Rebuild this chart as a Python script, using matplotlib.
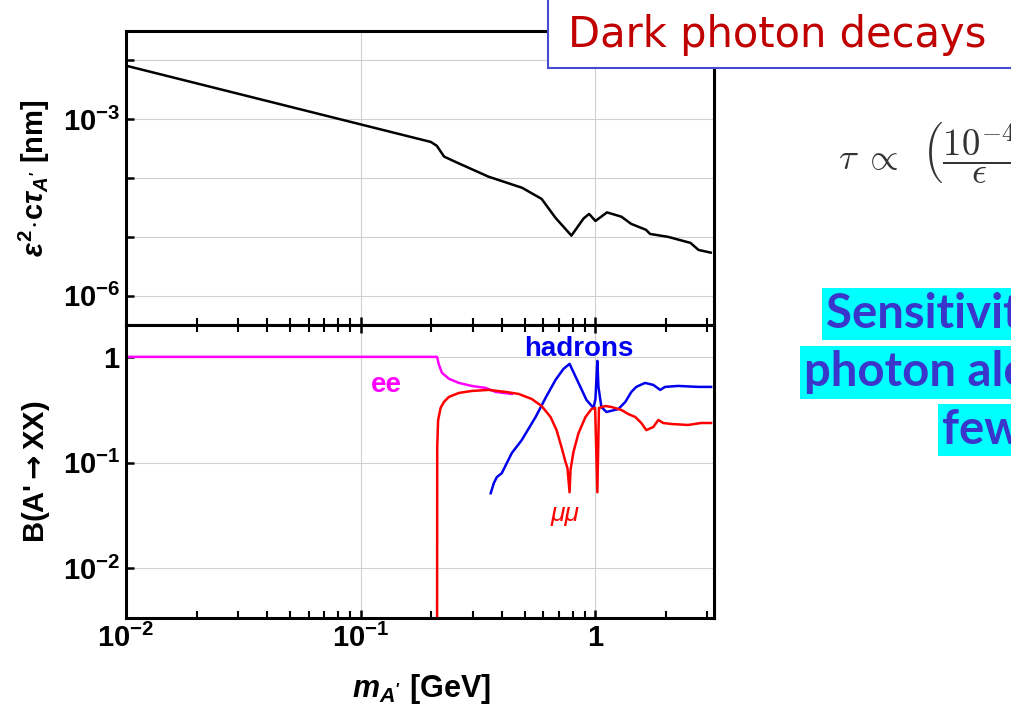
import matplotlib
matplotlib.use("Agg")
import matplotlib.pyplot as plt
from matplotlib.ticker import FixedLocator, FixedFormatter, NullLocator, LogLocator
from matplotlib.patches import Rectangle

# --- data (mass in GeV) ---
ctau_mass = [0.01, 0.199, 0.211, 0.2265, 0.254, 0.35, 0.487, 0.59, 0.676, 0.79,
             0.89, 0.94, 1.0, 1.12, 1.29, 1.42, 1.64, 1.71, 2.04, 2.54, 2.75, 3.1]
ctau_nm = [8.0e-3, 4.07e-4, 3.5e-4, 2.3e-4, 1.86e-4, 1.05e-4, 6.8e-5, 4.4e-5, 2.1e-5, 1.05e-5,
           2.05e-5, 2.45e-5, 1.86e-5, 2.6e-5, 2.2e-5, 1.66e-5, 1.32e-5, 1.12e-5, 1.0e-5, 7.9e-6,
           6.0e-6, 5.4e-6]

ee_mass = [0.01, 0.2113, 0.2155, 0.222, 0.2377, 0.262, 0.297, 0.341, 0.376, 0.44]
ee_br = [1.0, 1.0, 0.84, 0.705, 0.62, 0.567, 0.531, 0.508, 0.466, 0.446]

mumu_mass = [0.2113, 0.2118, 0.2137, 0.219, 0.2262, 0.2375, 0.262, 0.2976, 0.351, 0.415,
             0.471, 0.535, 0.59, 0.644, 0.683, 0.717, 0.746, 0.76, 0.776, 0.783,
             0.806, 0.847, 0.907, 0.962, 0.997, 1.019, 1.035, 1.103, 1.17, 1.289,
             1.38, 1.479, 1.568, 1.647, 1.764, 1.852, 1.944, 2.102, 2.482, 2.819, 3.11]
mumu_br = [1e-4, 0.14, 0.253, 0.329, 0.375, 0.418, 0.456, 0.476, 0.487, 0.466,
           0.446, 0.400, 0.343, 0.270, 0.203, 0.140, 0.101, 0.0887, 0.0525, 0.085,
           0.126, 0.190, 0.270, 0.321, 0.329, 0.0525, 0.329, 0.343, 0.336, 0.315,
           0.288, 0.270, 0.237, 0.203, 0.217, 0.253, 0.237, 0.232, 0.227, 0.237, 0.237]

had_mass = [0.358, 0.369, 0.38, 0.399, 0.44, 0.485, 0.556, 0.613, 0.676, 0.731,
            0.776, 0.847, 0.916, 0.981, 1.0, 1.019, 1.03, 1.06, 1.114, 1.252,
            1.341, 1.422, 1.493, 1.626, 1.764, 1.888, 1.98, 2.251, 2.738, 3.11]
had_br = [0.0514, 0.064, 0.0729, 0.0795, 0.123, 0.163, 0.270, 0.409, 0.605, 0.77,
          0.858, 0.567, 0.391, 0.329, 0.40, 0.916, 0.52, 0.336, 0.301, 0.321,
          0.375, 0.466, 0.52, 0.567, 0.543, 0.487, 0.52, 0.531, 0.52, 0.52]

x_ticks = [0.01, 0.1, 1]
x_labels = [r"$10^{-2}$", r"$10^{-1}$", r"$1$"]
ctau_ticks = [1e-7, 1e-6, 1e-5, 1e-4, 1e-3, 1e-2, 1e-1]
ctau_labels = ["", r"$10^{-6}$", "", "", r"$10^{-3}$", "", ""]
br_ticks = [1e-2, 1e-1, 1]
br_labels = [r"$10^{-2}$", r"$10^{-1}$", r"$1$"]

plt.rcParams["font.family"] = ["Liberation Sans", "DejaVu Sans"]
plt.rcParams["font.weight"] = "bold"
plt.rcParams["axes.labelweight"] = "bold"
plt.rcParams["mathtext.fontset"] = "custom"
plt.rcParams["mathtext.rm"] = "Liberation Sans:bold"
plt.rcParams["mathtext.bf"] = "Liberation Sans:bold"
plt.rcParams["mathtext.it"] = "Liberation Sans:italic:bold"
plt.rcParams["mathtext.sf"] = "DejaVu Sans:bold"

W, H = 1012, 706
fig = plt.figure(figsize=(W / 100, H / 100), dpi=100)

left, right = 126 / W, 714 / W
ax1 = fig.add_axes([left, 1 - 325 / H, right - left, 294 / H])
ax2 = fig.add_axes([left, 1 - 618 / H, right - left, 293 / H])

grid_kw = dict(color="#d0d0d0", lw=0.8)

for ax in (ax1, ax2):
    ax.set_xscale("log")
    ax.set_yscale("log")
    ax.set_xlim(0.01, 3.2)
    for s in ax.spines.values():
        s.set_linewidth(2.2)
    ax.xaxis.set_major_locator(FixedLocator(x_ticks))
    ax.xaxis.set_minor_locator(LogLocator(base=10, subs=range(2, 10)))
    ax.grid(True, which="major", **grid_kw)
    ax.tick_params(which="major", direction="in", length=6, width=1.8, labelsize=21, pad=4)
    ax.tick_params(which="minor", direction="in", length=5, width=1.5)
    ax.yaxis.set_minor_locator(NullLocator())

# upper panel: lifetime
ax1.plot(ctau_mass, ctau_nm, color="black", lw=1.8)
ax1.set_ylim(3.2e-7, 3.1e-2)
ax1.yaxis.set_major_locator(FixedLocator(ctau_ticks))
ax1.yaxis.set_major_formatter(FixedFormatter(ctau_labels))
ax1.yaxis.set_minor_locator(NullLocator())
ax1.tick_params(axis="x", which="both", bottom=True, top=False, labelbottom=False)
ax1.set_ylabel(r"$\varepsilon^{2}\!\cdot\!\mathrm{c}\tau_{A'}$ [nm]", fontsize=21)
ax1.yaxis.set_label_coords(-0.125, 0.5)

# lower panel: branching ratios
ax2.plot(ee_mass, ee_br, color="#ff00ff", lw=1.8)
ax2.plot(had_mass, had_br, color="#0000ee", lw=1.8)
ax2.plot(mumu_mass, mumu_br, color="#ff0000", lw=1.8)
ax2.set_ylim(3.4e-3, 2.0)
ax2.yaxis.set_major_locator(FixedLocator(br_ticks))
ax2.yaxis.set_major_formatter(FixedFormatter(br_labels))
ax2.yaxis.set_minor_locator(NullLocator())
ax2.xaxis.set_major_formatter(FixedFormatter(x_labels))
ax2.tick_params(axis="x", which="both", bottom=True, top=True)
ax2.set_ylabel(r"B(A'$\mathsf{\rightarrow}$XX)", fontsize=21)
ax2.yaxis.set_label_coords(-0.125, 0.5)
ax2.set_xlabel(r"$m_{A'}$ [GeV]", fontsize=22)
ax2.xaxis.set_label_coords(0.503, -0.185)

ax2.text(0.128, 0.543, "ee", color="#ff00ff", fontsize=20, fontweight="bold", ha="center", va="center")
ax2.text(0.85, 1.18, "hadrons", color="#0000ee", fontsize=20, fontweight="bold", ha="center", va="center")
ax2.text(0.745, 0.033, "μμ", color="#ff0000", fontsize=19, fontweight="normal", style="italic",
         ha="center", va="center")

# slide decorations around the chart
fig.patches.append(Rectangle((548 / W, 1 - 68 / H), 0.5, 0.2, transform=fig.transFigure,
                             facecolor="white", edgecolor="#4848d0", lw=1.5, zorder=5))
fig.text(568 / W, 1 - 47 / H, "Dark photon decays", family="DejaVu Sans", fontweight="normal",
         fontsize=30, color="#c00000", ha="left", va="baseline", zorder=6)

fig.text(838 / W, 1 - 152 / H, r"$\tau\;\propto\;\;\left(\dfrac{10^{-4}}{\epsilon}\right)^{2}$",
         math_fontfamily="cm", fontsize=26.5, color="#333333", ha="left", va="center")

hl = dict(facecolor="#00ffff", edgecolor="none", pad=3)
fig.text(826 / W, 1 - 328 / H, "Sensitivity to", family="Lato", fontweight="bold", fontsize=34,
         color="#3a36cc", ha="left", va="baseline", bbox=hl)
fig.text(804 / W, 1 - 386 / H, "photon along", family="Lato", fontweight="bold", fontsize=34,
         color="#3a36cc", ha="left", va="baseline", bbox=hl)
fig.text(942 / W, 1 - 444 / H, "few cm", family="Lato", fontweight="bold", fontsize=34,
         color="#3a36cc", ha="left", va="baseline", bbox=hl)

fig.savefig("out.png", dpi=100)
